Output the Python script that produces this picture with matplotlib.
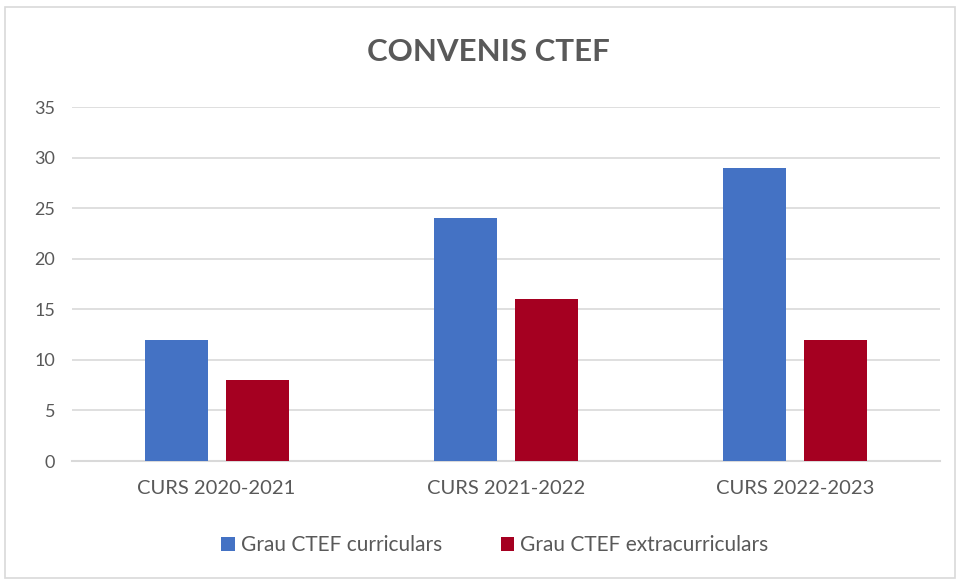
import matplotlib.pyplot as plt
from matplotlib.patches import Rectangle
import numpy as np

plt.rcParams['font.family'] = ['Lato', 'DejaVu Sans']

cursos = ['CURS 2020-2021', 'CURS 2021-2022', 'CURS 2022-2023']
curriculars = [12, 24, 29]
extracurriculars = [8, 16, 12]
series_names = ['Grau CTEF curriculars', 'Grau CTEF extracurriculars']

blue = '#4472C4'
red = '#A50021'
text_col = '#595959'
grid_col = '#D9D9D9'

fig = plt.figure(figsize=(9.59, 5.81), dpi=100)
ax = fig.add_axes([0.075, 0.2065, 0.905, 0.6093])

x = np.arange(len(cursos))
w = 0.218
off = 0.14
ax.bar(x - off, curriculars, w, color=blue, label=series_names[0], zorder=3)
ax.bar(x + off, extracurriculars, w, color=red, label=series_names[1], zorder=3)

ax.set_xlim(-0.5, 2.5)
ax.set_ylim(0, 35)
ax.set_yticks(range(0, 36, 5))
ax.set_xticks(x)
ax.set_xticklabels(cursos)
ax.tick_params(axis='both', length=0, colors=text_col)
ax.tick_params(axis='x', pad=14, labelsize=14.5)
ax.tick_params(axis='y', pad=12, labelsize=13)
ax.grid(axis='y', color=grid_col, linewidth=1.2, zorder=0)
for s in ['top', 'right', 'left']:
    ax.spines[s].set_visible(False)
ax.spines['bottom'].set_color(grid_col)
ax.spines['bottom'].set_linewidth(1.5)

fig.text(0.509, 0.91, 'CONVENIS CTEF', ha='center', va='center',
         fontsize=22.5, fontweight='bold', color=text_col)

leg = fig.legend(loc='center', bbox_to_anchor=(0.516, 0.062), ncol=2, frameon=False,
                 fontsize=15, handlelength=0.65, handleheight=0.65,
                 columnspacing=2.8, handletextpad=0.3)
for t in leg.get_texts():
    t.set_color(text_col)

fig.patches.append(Rectangle((5 / 959, 3 / 581), 950 / 959, 571 / 581,
                             transform=fig.transFigure, fill=False,
                             edgecolor=grid_col, linewidth=1.2))

fig.savefig('out.png', dpi=100)
